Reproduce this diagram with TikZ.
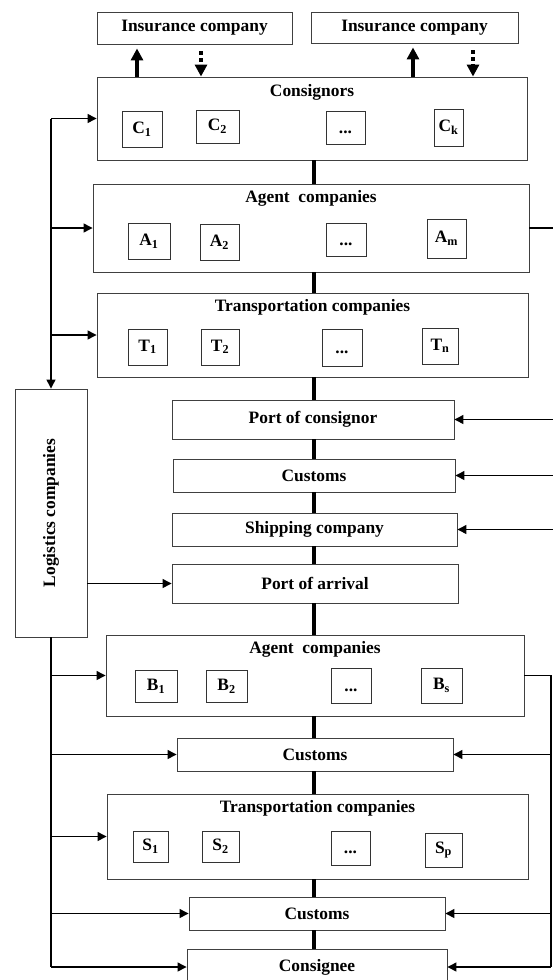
\documentclass[tikz,border=0pt]{standalone}
\usepackage{fontspec}
\setmainfont{Liberation Serif}
\usetikzlibrary{arrows.meta}
\newcommand{\etcdots}{\vphantom{C}...}
\begin{document}
\begin{tikzpicture}[x=1pt, y=-1pt,
    every node/.style={font=\fontsize{17.4}{20}\selectfont\bfseries},
    frame/.style={draw=black!75, line width=0.9pt, inner sep=0pt},
    unit/.style={draw=black!80, line width=0.8pt, inner sep=0pt},
    spine/.style={line width=4.5pt},
    wire/.style={line width=1.3pt},
    link/.style={wire, -{Triangle[length=9pt,width=9pt]}},
    heavy/.style={line width=3.5pt, -{Triangle[length=12pt,width=12pt]}}]
    \useasboundingbox (0,0) rectangle (553,980);

    % Hilfspunkte
    \coordinate (sx) at (314,0);
    \coordinate (rim) at (556,0);
    \coordinate (rbus) at (551,0);

    % Versicherung
    \node[frame, minimum width=195pt, minimum height=32pt] (Ins1) at (194.5,28) {Insurance company};
    \node[frame, minimum width=207pt, minimum height=31pt] (Ins2) at (414.5,27.5) {Insurance company};

    % Hauptbloecke
    \node[frame, minimum width=430pt, minimum height=83pt] (Cons) at (312,118.5) {};
    \node[frame, minimum width=436pt, minimum height=88pt] (Agent1) at (311,228) {};
    \node[frame, minimum width=431pt, minimum height=84pt] (Trans1) at (312.5,335) {};
    \node[frame, minimum width=72pt, minimum height=248pt] (Logi) at (51,513) {};
    \node[frame, minimum width=282pt, minimum height=39pt] (PortC) at (313,419.5) {Port of consignor};
    \node[frame, minimum width=282pt, minimum height=33pt] (Cust1) at (314,475.5) {Customs};
    \node[frame, minimum width=285pt, minimum height=33pt] (Ship) at (314.5,529.5) {Shipping company};
    \node[frame, minimum width=286pt, minimum height=39pt] (PortA) at (315,583.5) {Port of arrival};
    \node[frame, minimum width=418pt, minimum height=81pt] (Agent2) at (315,675.5) {};
    \node[frame, minimum width=276pt, minimum height=33pt] (Cust2) at (315,754.5) {Customs};
    \node[frame, minimum width=421pt, minimum height=85pt] (Trans2) at (317.5,836.5) {};
    \node[frame, minimum width=256pt, minimum height=33pt] (Cust3) at (317,913.5) {Customs};
    \node[frame, minimum width=260pt, minimum height=36pt] (Cnee) at (317,967) {Consignee};

    % Titel
    \node at ([yshift=-16pt]Cons.north) {Consignors};
    \node at ([yshift=-15pt]Agent1.north) {Agent~~companies};
    \node at ([yshift=-15pt]Trans1.north) {Transportation companies};
    \node at ([yshift=-15pt]Agent2.north) {Agent~~companies};
    \node at ([yshift=-15pt]Trans2.north) {Transportation companies};
    \node[rotate=90] at (Logi) {Logistics companies};

    % Einzelne Firmen
    \foreach \name/\txt/\x/\y/\w/\h in {
        c1/C\textsubscript{1}/142/129/40/36, c2/C\textsubscript{2}/217.5/126.5/43/33,
        cd/\etcdots/345.5/127.5/39/33, ck/C\textsubscript{k}/448.5/127.5/29/37,
        a1/A\textsubscript{1}/149/241/42/36, a2/A\textsubscript{2}/219.5/242/39/36,
        ad/\etcdots/346/239.5/40/33, am/A\textsubscript{m}/446.5/238.5/39/39,
        t1/T\textsubscript{1}/147.5/347/39/36, t2/T\textsubscript{2}/220/347/38/36,
        td/\etcdots/342/348/40/37, tn/T\textsubscript{n}/440/346/36/36,
        b1/B\textsubscript{1}/156/686/42/32, b2/B\textsubscript{2}/226.5/686/41/32,
        bd/\etcdots/351/685.5/40/35, bs/B\textsubscript{s}/441.5/685.5/41/35,
        s1/S\textsubscript{1}/150.5/846.5/35/31, s2/S\textsubscript{2}/220.5/846.5/37/31,
        sd/\etcdots/350.5/848/39/34, sp/S\textsubscript{p}/443.5/850/37/34}
        \node[unit, minimum width=\w pt, minimum height=\h pt] (\name) at (\x,\y) {\txt};

    % Hauptfluss
    \foreach \a/\b in {Cons/Agent1, Agent1/Trans1, Trans1/PortC, PortC/Cust1, Cust1/Ship,
        Ship/PortA, PortA/Agent2, Agent2/Cust2, Cust2/Trans2, Trans2/Cust3, Cust3/Cnee}
        \draw[spine] (\a.south -| sx) -- (\b.north -| sx);

    % Versicherung <-> Versender
    \draw[heavy, shorten >=4pt] (Cons.north -| 137,0) -- (Ins1.south -| 137,0);
    \draw[heavy, dash pattern=on 4pt off 3pt, shorten <=7pt] (Ins1.south -| 201,0) -- (Cons.north -| 201,0);
    \draw[heavy, shorten >=4pt] (Cons.north -| 413,0) -- (Ins2.south -| 413,0);
    \draw[heavy, dash pattern=on 4pt off 3pt, shorten <=7pt] (Ins2.south -| 473,0) -- (Cons.north -| 473,0);

    % Logistik links
    \draw[link] (Cons.west -| Logi.north) -- (Logi.north);
    \draw[link] (Cons.west -| Logi.north) -- (Cons.west);
    \draw[link] (Agent1.west -| Logi.north) -- (Agent1.west);
    \draw[link] (Trans1.west -| Logi.north) -- (Trans1.west);
    \draw[link] (Logi.east |- PortA.west) -- (PortA.west);
    \draw[wire] (Logi.south) -- (Cnee.west -| Logi.south);
    \foreach \b in {Agent2, Cust2, Trans2, Cust3, Cnee}
        \draw[link] (\b.west -| Logi.south) -- (\b.west);

    % Rechte Seite
    \draw[wire] (Agent1.east) -- (Agent1.east -| rim);
    \foreach \b in {PortC, Cust1, Ship}
        \draw[link] (\b.east -| rim) -- (\b.east);
    \draw[wire] (Agent2.east) -- (Agent2.east -| rbus) -- (Cnee.east -| rbus);
    \foreach \b in {Cust2, Cust3, Cnee}
        \draw[link] (\b.east -| rbus) -- (\b.east);
\end{tikzpicture}
\end{document}
